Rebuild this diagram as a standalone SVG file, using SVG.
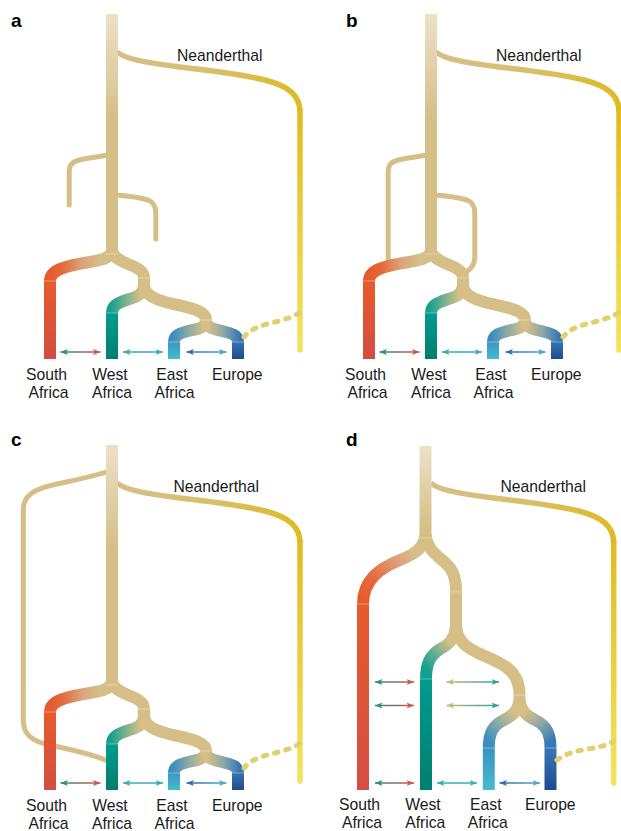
<svg xmlns="http://www.w3.org/2000/svg" width="621" height="831" viewBox="0 0 621 831">
<style>
.br{fill:none;stroke-width:12}
.tan{stroke:#d5bf87}
.thin{fill:none;stroke:#d5bf87;stroke-width:5}
.nea{fill:none;stroke-width:5.5}
.dash{fill:none;stroke:#e2cf6e;stroke-width:5;stroke-dasharray:3.5 8;stroke-linecap:round}
.arr{fill:none;stroke-width:1.6}
.seam{stroke:#ffffff;stroke-opacity:.45;stroke-width:.8}
.lbl{font-family:"Liberation Sans",Arial,Helvetica,sans-serif;font-size:15.7px;fill:#1a1a1a;text-anchor:middle}
.nt{font-family:"Liberation Sans",Arial,Helvetica,sans-serif;font-size:15.7px;fill:#1a1a1a}
.pl{font-family:"Liberation Sans",Arial,Helvetica,sans-serif;font-size:19px;font-weight:bold;fill:#000}
</style>
<defs>
<marker id="mTeal" viewBox="0 0 10 8" refX="10" refY="4" markerWidth="7.5" markerHeight="6.5" markerUnits="userSpaceOnUse" orient="auto-start-reverse"><path d="M0,0 L10,4 L0,8 L2.5,4z" fill="#2a8f80"/></marker>
<marker id="mRed" viewBox="0 0 10 8" refX="10" refY="4" markerWidth="7.5" markerHeight="6.5" markerUnits="userSpaceOnUse" orient="auto-start-reverse"><path d="M0,0 L10,4 L0,8 L2.5,4z" fill="#c95a4a"/></marker>
<marker id="mCyan" viewBox="0 0 10 8" refX="10" refY="4" markerWidth="7.5" markerHeight="6.5" markerUnits="userSpaceOnUse" orient="auto-start-reverse"><path d="M0,0 L10,4 L0,8 L2.5,4z" fill="#3aabbe"/></marker>
<marker id="mBlue" viewBox="0 0 10 8" refX="10" refY="4" markerWidth="7.5" markerHeight="6.5" markerUnits="userSpaceOnUse" orient="auto-start-reverse"><path d="M0,0 L10,4 L0,8 L2.5,4z" fill="#2f6dad"/></marker>
<marker id="mLBlue" viewBox="0 0 10 8" refX="10" refY="4" markerWidth="7.5" markerHeight="6.5" markerUnits="userSpaceOnUse" orient="auto-start-reverse"><path d="M0,0 L10,4 L0,8 L2.5,4z" fill="#4ea6cc"/></marker>
<marker id="mTan" viewBox="0 0 10 8" refX="10" refY="4" markerWidth="7.5" markerHeight="6.5" markerUnits="userSpaceOnUse" orient="auto-start-reverse"><path d="M0,0 L10,4 L0,8 L2.5,4z" fill="#c8b67e"/></marker>
<marker id="mTeal2" viewBox="0 0 10 8" refX="10" refY="4" markerWidth="7.5" markerHeight="6.5" markerUnits="userSpaceOnUse" orient="auto-start-reverse"><path d="M0,0 L10,4 L0,8 L2.5,4z" fill="#2aa594"/></marker>

<linearGradient id="gTrunk" gradientUnits="userSpaceOnUse" x1="0" y1="14" x2="0" y2="120"><stop offset="0" stop-color="#ece1c7"/><stop offset="1" stop-color="#d5bf87"/></linearGradient>
<linearGradient id="gNeaH" gradientUnits="userSpaceOnUse" x1="117" y1="0" x2="300" y2="0"><stop offset="0" stop-color="#d5bf87"/><stop offset=".5" stop-color="#d8bf6c"/><stop offset="1" stop-color="#dfba22"/></linearGradient>
<linearGradient id="gNeaV" gradientUnits="userSpaceOnUse" x1="0" y1="110" x2="0" y2="350"><stop offset="0" stop-color="#e0bb20"/><stop offset="1" stop-color="#f3e35e"/></linearGradient>
<linearGradient id="gSAarc" gradientUnits="userSpaceOnUse" x1="50" y1="0" x2="100" y2="0"><stop offset="0" stop-color="#e65a2c"/><stop offset=".25" stop-color="#e46a3c"/><stop offset=".65" stop-color="#dba47c"/><stop offset="1" stop-color="#d5bf87"/></linearGradient>
<linearGradient id="gSAcol" gradientUnits="userSpaceOnUse" x1="0" y1="281" x2="0" y2="359"><stop offset="0" stop-color="#e65b2d"/><stop offset="1" stop-color="#d24d42"/></linearGradient>
<linearGradient id="gWarc" gradientUnits="userSpaceOnUse" x1="110" y1="0" x2="140" y2="0"><stop offset="0" stop-color="#12a08f"/><stop offset=".45" stop-color="#6aae91"/><stop offset="1" stop-color="#d5bf87"/></linearGradient>
<linearGradient id="gWcol" gradientUnits="userSpaceOnUse" x1="0" y1="313" x2="0" y2="359"><stop offset="0" stop-color="#009c8e"/><stop offset="1" stop-color="#007e6f"/></linearGradient>
<linearGradient id="gEarc" gradientUnits="userSpaceOnUse" x1="172" y1="0" x2="204" y2="0"><stop offset="0" stop-color="#3a8cc1"/><stop offset=".5" stop-color="#8aa9a6"/><stop offset="1" stop-color="#d5bf87"/></linearGradient>
<linearGradient id="gEcol" gradientUnits="userSpaceOnUse" x1="0" y1="342" x2="0" y2="359"><stop offset="0" stop-color="#3a98c6"/><stop offset="1" stop-color="#46bbcd"/></linearGradient>
<linearGradient id="gEuarc" gradientUnits="userSpaceOnUse" x1="240" y1="0" x2="208" y2="0"><stop offset="0" stop-color="#3577b4"/><stop offset=".5" stop-color="#8aa7a8"/><stop offset="1" stop-color="#d5bf87"/></linearGradient>
<linearGradient id="gEucol" gradientUnits="userSpaceOnUse" x1="0" y1="342" x2="0" y2="359"><stop offset="0" stop-color="#3574b2"/><stop offset="1" stop-color="#1f4b8b"/></linearGradient>
<linearGradient id="gArSW" gradientUnits="userSpaceOnUse" x1="60" y1="0" x2="101" y2="0"><stop offset="0" stop-color="#2a8f80"/><stop offset="1" stop-color="#c95a4a"/></linearGradient>
<linearGradient id="gArEEu" gradientUnits="userSpaceOnUse" x1="187" y1="0" x2="227" y2="0"><stop offset="0" stop-color="#2f6dad"/><stop offset="1" stop-color="#4ea6cc"/></linearGradient>

<linearGradient id="gTrunkD" gradientUnits="userSpaceOnUse" x1="0" y1="446" x2="0" y2="530"><stop offset="0" stop-color="#ece1c7"/><stop offset="1" stop-color="#d5bf87"/></linearGradient>
<linearGradient id="gNeaHD" gradientUnits="userSpaceOnUse" x1="431" y1="0" x2="613.7" y2="0"><stop offset="0" stop-color="#d5bf87"/><stop offset=".5" stop-color="#d8bf6c"/><stop offset="1" stop-color="#dfba22"/></linearGradient>
<linearGradient id="gNeaVD" gradientUnits="userSpaceOnUse" x1="0" y1="541" x2="0" y2="783"><stop offset="0" stop-color="#e0bb20"/><stop offset="1" stop-color="#f3e35e"/></linearGradient>
<linearGradient id="gSAarcD" gradientUnits="userSpaceOnUse" x1="362" y1="600" x2="420" y2="550"><stop offset="0" stop-color="#e65a2c"/><stop offset=".3" stop-color="#e46b3c"/><stop offset=".7" stop-color="#dba47c"/><stop offset=".9" stop-color="#d5bf87"/></linearGradient>
<linearGradient id="gSAcolD" gradientUnits="userSpaceOnUse" x1="0" y1="604" x2="0" y2="790"><stop offset="0" stop-color="#e65b2d"/><stop offset="1" stop-color="#d44e44"/></linearGradient>
<linearGradient id="gWarcD" gradientUnits="userSpaceOnUse" x1="427" y1="670" x2="452" y2="645"><stop offset="0" stop-color="#12a08f"/><stop offset=".5" stop-color="#6aae91"/><stop offset="1" stop-color="#d5bf87"/></linearGradient>
<linearGradient id="gWcolD" gradientUnits="userSpaceOnUse" x1="0" y1="679" x2="0" y2="790"><stop offset="0" stop-color="#009c8e"/><stop offset="1" stop-color="#007f70"/></linearGradient>
<linearGradient id="gEarcD" gradientUnits="userSpaceOnUse" x1="489" y1="742" x2="515" y2="714"><stop offset="0" stop-color="#3a8cc1"/><stop offset=".5" stop-color="#8aa9a6"/><stop offset="1" stop-color="#d5bf87"/></linearGradient>
<linearGradient id="gEcolD" gradientUnits="userSpaceOnUse" x1="0" y1="748" x2="0" y2="790"><stop offset="0" stop-color="#3a93c4"/><stop offset="1" stop-color="#46bbcd"/></linearGradient>
<linearGradient id="gEuarcD" gradientUnits="userSpaceOnUse" x1="550" y1="742" x2="524" y2="714"><stop offset="0" stop-color="#3679b5"/><stop offset=".5" stop-color="#8aa7a8"/><stop offset="1" stop-color="#d5bf87"/></linearGradient>
<linearGradient id="gEucolD" gradientUnits="userSpaceOnUse" x1="0" y1="748" x2="0" y2="790"><stop offset="0" stop-color="#3878b5"/><stop offset="1" stop-color="#1f4b8b"/></linearGradient>
<linearGradient id="gArSWD" gradientUnits="userSpaceOnUse" x1="375" y1="0" x2="414" y2="0"><stop offset="0" stop-color="#2a8f80"/><stop offset="1" stop-color="#c95a4a"/></linearGradient>
<linearGradient id="gArTT" gradientUnits="userSpaceOnUse" x1="446.5" y1="0" x2="499" y2="0"><stop offset="0" stop-color="#c8b67e"/><stop offset="1" stop-color="#2aa594"/></linearGradient>
<linearGradient id="gArEEuD" gradientUnits="userSpaceOnUse" x1="499.5" y1="0" x2="540" y2="0"><stop offset="0" stop-color="#2f6dad"/><stop offset="1" stop-color="#4ea6cc"/></linearGradient>
</defs>
<rect width="621" height="831" fill="#ffffff"/>

<!-- ===== Panel a ===== -->
<g id="panel-a">
  <text class="pl" x="11" y="27">a</text>
  <g id="a-neanderthal">
    <path class="nea" stroke="url(#gNeaH)" d="M117,52 C124,58 140,62 180,67 C215,71 245,75 265,80 C288,86 300,95 300,112"/>
    <path class="nea" stroke="url(#gNeaV)" stroke-linecap="round" d="M300,110 L300,350"/>
    <text class="nt" x="177" y="61">Neanderthal</text>
  </g>
  <g id="a-ghost-left"><path class="thin" stroke-linecap="round" d="M108,155 C98,157 86,158 79,160 C72,162 69.2,165 69.2,171 L69.2,205"/></g>
  <g id="a-ghost-right"><path class="thin" stroke-linecap="round" d="M116,195 C128,196 140,197.5 148,200 C153.5,202 155.8,206 155.8,213 L155.8,239"/></g>
  <g id="a-ancestor">
    <path class="br" stroke="url(#gTrunk)" d="M112,14 V256"/>
    <path class="br tan" d="M112,251 C114,259 122,261 128,264 C138,268 144,271 144,278 V290"/>
    <path class="br tan" d="M144,286 C146,296 155,299 167,302.5 C190,308 206,310 206,320 V326"/>
  </g>
  <g id="a-south-africa">
    <path class="br" stroke="url(#gSAarc)" d="M112,251 C110,259 100,260 90,262 C65,266 50,270 50,281"/>
    <path class="br" stroke="url(#gSAcol)" d="M50,281 V359"/>
    <text class="lbl" x="46.5" y="379.5">South</text><text class="lbl" x="48.5" y="398">Africa</text>
  </g>
  <g id="a-west-africa">
    <path class="br" stroke="url(#gWarc)" d="M144,286 C143,295 136,297 128,299.5 C117,303 112,306 112,313"/>
    <path class="br" stroke="url(#gWcol)" d="M112,313 V359"/>
    <text class="lbl" x="110" y="379.5">West</text><text class="lbl" x="112" y="398">Africa</text>
  </g>
  <g id="a-east-africa">
    <path class="br" stroke="url(#gEarc)" d="M206,321 C205,328 198,329 190,330.5 C180,333 174,335 174,342"/>
    <path class="br" stroke="url(#gEcol)" d="M174,342 V359"/>
    <text class="lbl" x="172" y="379.5">East</text><text class="lbl" x="174.5" y="398">Africa</text>
  </g>
  <g id="a-europe">
    <path class="br" stroke="url(#gEuarc)" d="M206,321 C207,328 214,329 222,331 C232,333.5 238,335 238,342"/>
    <path class="br" stroke="url(#gEucol)" d="M238,342 V359"/>
    <text class="lbl" x="237.3" y="379.5">Europe</text>
  </g>
  <g id="a-seams">
    <line class="seam" x1="106" y1="254" x2="118" y2="254"/><line class="seam" x1="44" y1="281" x2="56" y2="281"/>
    <line class="seam" x1="138" y1="278" x2="150" y2="278"/><line class="seam" x1="106" y1="313" x2="118" y2="313"/>
    <line class="seam" x1="200" y1="320" x2="212" y2="320"/><line class="seam" x1="168" y1="342" x2="180" y2="342"/>
    <line class="seam" x1="232" y1="342" x2="244" y2="342"/>
  </g>
  <g id="a-connectors">
    <path class="dash" d="M244,337 C250,329 262,325 275,322 C287,319 295,316 300,312"/>
    <line class="arr" stroke="url(#gArSW)" x1="60.5" y1="352" x2="100.5" y2="352" marker-start="url(#mTeal)" marker-end="url(#mRed)"/>
    <line class="arr" stroke="#3aabbe" x1="123" y1="352" x2="163" y2="352" marker-start="url(#mCyan)" marker-end="url(#mCyan)"/>
    <line class="arr" stroke="url(#gArEEu)" x1="186.5" y1="352" x2="226.5" y2="352" marker-start="url(#mBlue)" marker-end="url(#mLBlue)"/>
  </g>
</g>

<!-- ===== Panel b ===== -->
<text class="pl" x="346" y="27">b</text>
<g id="panel-b" transform="translate(319,0)">
  <g id="b-neanderthal">
    <path class="nea" stroke="url(#gNeaH)" d="M117,52 C124,58 140,62 180,67 C215,71 245,75 265,80 C288,86 300,95 300,112"/>
    <path class="nea" stroke="url(#gNeaV)" stroke-linecap="round" d="M300,110 L300,350"/>
    <text class="nt" x="177" y="61">Neanderthal</text>
  </g>
  <g id="b-ghost-left"><path class="thin" d="M108,155 C98,157 86,158 79,160 C72,162 69.2,165 69.2,171 L69.2,268"/></g>
  <g id="b-ghost-right"><path class="thin" d="M116,195 C128,196 140,197.5 148,200 C153.5,202 155.8,206 155.8,213 L155.8,257 C155.8,264 153,268 145,274"/></g>
  <g id="b-ancestor">
    <path class="br" stroke="url(#gTrunk)" d="M112,14 V256"/>
    <path class="br tan" d="M112,251 C114,259 122,261 128,264 C138,268 144,271 144,278 V290"/>
    <path class="br tan" d="M144,286 C146,296 155,299 167,302.5 C190,308 206,310 206,320 V326"/>
  </g>
  <g id="b-south-africa">
    <path class="br" stroke="url(#gSAarc)" d="M112,251 C110,259 100,260 90,262 C65,266 50,270 50,281"/>
    <path class="br" stroke="url(#gSAcol)" d="M50,281 V359"/>
    <text class="lbl" x="46.5" y="379.5">South</text><text class="lbl" x="48.5" y="398">Africa</text>
  </g>
  <g id="b-west-africa">
    <path class="br" stroke="url(#gWarc)" d="M144,286 C143,295 136,297 128,299.5 C117,303 112,306 112,313"/>
    <path class="br" stroke="url(#gWcol)" d="M112,313 V359"/>
    <text class="lbl" x="110" y="379.5">West</text><text class="lbl" x="112" y="398">Africa</text>
  </g>
  <g id="b-east-africa">
    <path class="br" stroke="url(#gEarc)" d="M206,321 C205,328 198,329 190,330.5 C180,333 174,335 174,342"/>
    <path class="br" stroke="url(#gEcol)" d="M174,342 V359"/>
    <text class="lbl" x="172" y="379.5">East</text><text class="lbl" x="174.5" y="398">Africa</text>
  </g>
  <g id="b-europe">
    <path class="br" stroke="url(#gEuarc)" d="M206,321 C207,328 214,329 222,331 C232,333.5 238,335 238,342"/>
    <path class="br" stroke="url(#gEucol)" d="M238,342 V359"/>
    <text class="lbl" x="237.3" y="379.5">Europe</text>
  </g>
  <g id="b-seams">
    <line class="seam" x1="106" y1="254" x2="118" y2="254"/><line class="seam" x1="44" y1="281" x2="56" y2="281"/>
    <line class="seam" x1="138" y1="278" x2="150" y2="278"/><line class="seam" x1="106" y1="313" x2="118" y2="313"/>
    <line class="seam" x1="200" y1="320" x2="212" y2="320"/><line class="seam" x1="168" y1="342" x2="180" y2="342"/>
    <line class="seam" x1="232" y1="342" x2="244" y2="342"/>
  </g>
  <g id="b-connectors">
    <path class="dash" d="M244,337 C250,329 262,325 275,322 C287,319 295,316 300,312"/>
    <line class="arr" stroke="url(#gArSW)" x1="60.5" y1="352" x2="100.5" y2="352" marker-start="url(#mTeal)" marker-end="url(#mRed)"/>
    <line class="arr" stroke="#3aabbe" x1="123" y1="352" x2="163" y2="352" marker-start="url(#mCyan)" marker-end="url(#mCyan)"/>
    <line class="arr" stroke="url(#gArEEu)" x1="186.5" y1="352" x2="226.5" y2="352" marker-start="url(#mBlue)" marker-end="url(#mLBlue)"/>
  </g>
</g>

<!-- ===== Panel c ===== -->
<text class="pl" x="11" y="446">c</text>
<g id="panel-c" transform="translate(0,431)">
  <g id="c-neanderthal">
    <path class="nea" stroke="url(#gNeaH)" d="M117,52 C124,58 140,62 180,67 C215,71 245,75 265,80 C288,86 300,95 300,112"/>
    <path class="nea" stroke="url(#gNeaV)" stroke-linecap="round" d="M300,110 L300,350"/>
    <text class="nt" x="173.5" y="61">Neanderthal</text>
  </g>
  <g id="c-ghost"><path class="thin" d="M108,40.5 C95,45 80,48 55,53.5 C35,58 23.3,64 23.3,78 L23.3,289 C23.3,302 30,308 42,312 C60,317 85,320 108,330"/></g>
  <g id="c-ancestor">
    <path class="br" stroke="url(#gTrunk)" d="M112,14 V256"/>
    <path class="br tan" d="M112,251 C114,259 122,261 128,264 C138,268 144,271 144,278 V290"/>
    <path class="br tan" d="M144,286 C146,296 155,299 167,302.5 C190,308 206,310 206,320 V326"/>
  </g>
  <g id="c-south-africa">
    <path class="br" stroke="url(#gSAarc)" d="M112,251 C110,259 100,260 90,262 C65,266 50,270 50,281"/>
    <path class="br" stroke="url(#gSAcol)" d="M50,281 V359"/>
    <text class="lbl" x="46.5" y="379.5">South</text><text class="lbl" x="48.5" y="398">Africa</text>
  </g>
  <g id="c-west-africa">
    <path class="br" stroke="url(#gWarc)" d="M144,286 C143,295 136,297 128,299.5 C117,303 112,306 112,313"/>
    <path class="br" stroke="url(#gWcol)" d="M112,313 V359"/>
    <text class="lbl" x="110" y="379.5">West</text><text class="lbl" x="112" y="398">Africa</text>
  </g>
  <g id="c-east-africa">
    <path class="br" stroke="url(#gEarc)" d="M206,321 C205,328 198,329 190,330.5 C180,333 174,335 174,342"/>
    <path class="br" stroke="url(#gEcol)" d="M174,342 V359"/>
    <text class="lbl" x="172" y="379.5">East</text><text class="lbl" x="174.5" y="398">Africa</text>
  </g>
  <g id="c-europe">
    <path class="br" stroke="url(#gEuarc)" d="M206,321 C207,328 214,329 222,331 C232,333.5 238,335 238,342"/>
    <path class="br" stroke="url(#gEucol)" d="M238,342 V359"/>
    <text class="lbl" x="237.3" y="379.5">Europe</text>
  </g>
  <g id="c-seams">
    <line class="seam" x1="106" y1="254" x2="118" y2="254"/><line class="seam" x1="44" y1="281" x2="56" y2="281"/>
    <line class="seam" x1="138" y1="278" x2="150" y2="278"/><line class="seam" x1="106" y1="313" x2="118" y2="313"/>
    <line class="seam" x1="200" y1="320" x2="212" y2="320"/><line class="seam" x1="168" y1="342" x2="180" y2="342"/>
    <line class="seam" x1="232" y1="342" x2="244" y2="342"/>
  </g>
  <g id="c-connectors">
    <path class="dash" d="M244,337 C250,329 262,325 275,322 C287,319 295,316 300,312"/>
    <line class="arr" stroke="url(#gArSW)" x1="60.5" y1="352" x2="100.5" y2="352" marker-start="url(#mTeal)" marker-end="url(#mRed)"/>
    <line class="arr" stroke="#3aabbe" x1="123" y1="352" x2="163" y2="352" marker-start="url(#mCyan)" marker-end="url(#mCyan)"/>
    <line class="arr" stroke="url(#gArEEu)" x1="186.5" y1="352" x2="226.5" y2="352" marker-start="url(#mBlue)" marker-end="url(#mLBlue)"/>
  </g>
</g>

<!-- ===== Panel d ===== -->
<g id="panel-d">
  <text class="pl" x="346" y="446">d</text>
  <g id="d-neanderthal">
    <path class="nea" stroke="url(#gNeaHD)" d="M430.7,483 C437.7,489 453.7,493 493.7,498 C528.7,502 558.7,506 578.7,511 C601.7,517 613.7,526 613.7,543"/>
    <path class="nea" stroke="url(#gNeaVD)" stroke-linecap="round" d="M613.7,541 L613.7,783"/>
    <text class="nt" x="500.5" y="492">Neanderthal</text>
  </g>
  <g id="d-ancestor">
    <path class="br" stroke="url(#gTrunkD)" d="M425.5,446 V538"/>
    <path class="br tan" d="M425.5,535 C427,548 434,553 442,560 C452,568 456,575 456,592 V630"/>
    <path class="br tan" d="M456,625 C457,641 466,647 478,653 C500,663 519.5,668 519.5,695 V704"/>
  </g>
  <g id="d-south-africa">
    <path class="br" stroke="url(#gSAarcD)" d="M425.5,535 C424,548 415,554 400,560 C380,568 363,580 363,604"/>
    <path class="br" stroke="url(#gSAcolD)" d="M363,604 V790"/>
    <text class="lbl" x="359.5" y="809.5">South</text><text class="lbl" x="362" y="828">Africa</text>
  </g>
  <g id="d-west-africa">
    <path class="br" stroke="url(#gWarcD)" d="M456,625 C455,640 448,645 440,649 C431,655 426,662 426,679"/>
    <path class="br" stroke="url(#gWcolD)" d="M426,679 V790"/>
    <text class="lbl" x="423" y="809.5">West</text><text class="lbl" x="425.3" y="828">Africa</text>
  </g>
  <g id="d-east-africa">
    <path class="br" stroke="url(#gEarcD)" d="M519.5,700 C518,713 510,717 502,721 C493,726 488.8,733 488.8,748"/>
    <path class="br" stroke="url(#gEcolD)" d="M488.8,748 V790"/>
    <text class="lbl" x="485.8" y="809.5">East</text><text class="lbl" x="487.8" y="828">Africa</text>
  </g>
  <g id="d-europe">
    <path class="br" stroke="url(#gEuarcD)" d="M519.5,700 C521,713 529,717 537,721 C546,726 550.5,733 550.5,748"/>
    <path class="br" stroke="url(#gEucolD)" d="M550.5,748 V790"/>
    <text class="lbl" x="550.3" y="809.5">Europe</text>
  </g>
  <g id="d-seams">
    <line class="seam" x1="419.5" y1="538" x2="431.5" y2="538"/><line class="seam" x1="357" y1="604" x2="369" y2="604"/>
    <line class="seam" x1="450" y1="592" x2="462" y2="592"/><line class="seam" x1="420" y1="679" x2="432" y2="679"/>
    <line class="seam" x1="513.5" y1="695" x2="525.5" y2="695"/><line class="seam" x1="482.8" y1="748" x2="494.8" y2="748"/>
    <line class="seam" x1="544.5" y1="748" x2="556.5" y2="748"/>
  </g>
  <g id="d-connectors">
    <path class="dash" d="M557,760 C565,754 575,751 588,749 C600,747 608,745 613.7,741"/>
    <line class="arr" stroke="url(#gArSWD)" x1="375" y1="682" x2="414" y2="682" marker-start="url(#mTeal)" marker-end="url(#mRed)"/>
    <line class="arr" stroke="url(#gArSWD)" x1="375" y1="705.5" x2="414" y2="705.5" marker-start="url(#mTeal)" marker-end="url(#mRed)"/>
    <line class="arr" stroke="url(#gArSWD)" x1="375" y1="783" x2="414" y2="783" marker-start="url(#mTeal)" marker-end="url(#mRed)"/>
    <line class="arr" stroke="url(#gArTT)" x1="446.5" y1="682" x2="499" y2="682" marker-start="url(#mTan)" marker-end="url(#mTeal2)"/>
    <line class="arr" stroke="url(#gArTT)" x1="446.5" y1="705.5" x2="499" y2="705.5" marker-start="url(#mTan)" marker-end="url(#mTeal2)"/>
    <line class="arr" stroke="#3aabbe" x1="437" y1="783" x2="477" y2="783" marker-start="url(#mCyan)" marker-end="url(#mCyan)"/>
    <line class="arr" stroke="url(#gArEEuD)" x1="499.5" y1="783" x2="540" y2="783" marker-start="url(#mBlue)" marker-end="url(#mLBlue)"/>
  </g>
</g>
</svg>
